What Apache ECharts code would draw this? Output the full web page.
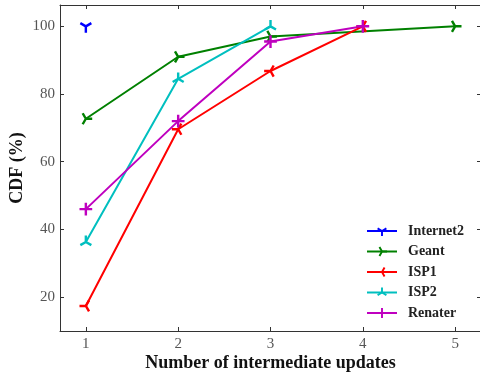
<!DOCTYPE html>
<html>
<head>
<meta charset="utf-8">
<script src="https://cdn.jsdelivr.net/npm/echarts@6/dist/echarts.min.js"></script>
<style>
  html, body { margin: 0; padding: 0; background: #fff; }
  #chart { width: 480px; height: 379px; }
</style>
</head>
<body>
<div id="chart"></div>
<script>
// data
const xTicks = [1, 2, 3, 4, 5];
const yTicks = [20, 40, 60, 80, 100];

const internet2X = [1];
const internet2Y = [100];
const geantX = [1, 2, 3, 5];
const geantY = [72.7, 91, 97, 100];
const isp1X = [1, 2, 3, 4];
const isp1Y = [17.4, 69.6, 86.8, 100];
const isp2X = [1, 2, 3];
const isp2Y = [36.3, 84.5, 100];
const renaterX = [1, 2, 3, 4];
const renaterY = [46, 72, 95.5, 100];

// matplotlib-like tri / plus markers built from thin spokes
function spokes(angles, t) {
  let d = 'M-1.1 -1.1 L-1.1 -1.1 Z M1.1 1.1 L1.1 1.1 Z';
  angles.forEach(function (a) {
    const r = a * Math.PI / 180;
    const dx = Math.cos(r), dy = Math.sin(r);
    const nx = -dy * t / 2, ny = dx * t / 2;
    const p = [[nx, ny], [dx + nx, dy + ny], [dx - nx, dy - ny], [-nx, -ny]];
    d += ' M' + p.map(q => q[0].toFixed(3) + ' ' + q[1].toFixed(3)).join(' L') + ' Z';
  });
  return 'path://' + d;
}
const triDown = spokes([90, 210, 330], 0.38);
const triRight = spokes([0, 120, 240], 0.38);
const triLeft = spokes([180, 300, 60], 0.38);
const triUp = spokes([270, 30, 150], 0.38);
const plus = spokes([0, 90, 180, 270], 0.38);

function pairs(xs, ys) {
  return xs.map((x, i) => [x, ys[i]]);
}

const font = '"Liberation Serif", "DejaVu Serif", serif';

function mkSeries(name, xs, ys, color, symbol) {
  return {
    name: name,
    type: 'line',
    data: pairs(xs, ys),
    symbol: symbol,
    symbolSize: 14,
    symbolKeepAspect: true,
    showSymbol: true,
    lineStyle: { color: color, width: 2 },
    itemStyle: { color: color },
    emphasis: { disabled: true },
    animation: false
  };
}

const chart = echarts.init(document.getElementById('chart'), null, { renderer: 'canvas' });

const axisLine = { show: true, lineStyle: { color: '#333', width: 1 } };

chart.setOption({
  backgroundColor: '#fff',
  animation: false,
  grid: { left: 60, top: 5, width: 421, height: 326, outerBoundsMode: 'none', containLabel: false },
  legend: {
    orient: 'vertical',
    left: 361,
    top: 219,
    itemWidth: 30,
    itemHeight: 14,
    itemGap: 6.5,
    textStyle: { fontFamily: font, fontSize: 14, fontWeight: 600, color: '#222', padding: [0, 0, 0, 6] },
    data: ['Internet2', 'Geant', 'ISP1', 'ISP2', 'Renater']
  },
  xAxis: [{
    type: 'value',
    min: 0.72,
    max: 5.28,
    position: 'bottom',
    name: 'Number of intermediate updates',
    nameLocation: 'middle',
    nameGap: 23,
    nameMoveOverlap: false,
    nameTextStyle: { fontFamily: font, fontSize: 18, fontWeight: 'bold', color: '#111' },
    axisLine: axisLine,
    axisTick: { show: true, inside: true, length: 4, customValues: xTicks, lineStyle: { color: '#333' } },
    axisLabel: { customValues: xTicks, fontFamily: font, fontSize: 15, color: '#555', margin: 6 },
    splitLine: { show: false }
  }, {
    type: 'value',
    min: 0.72,
    max: 5.28,
    position: 'top',
    axisLine: axisLine,
    axisTick: { show: true, inside: true, length: 4, customValues: xTicks, lineStyle: { color: '#333' } },
    axisLabel: { show: false },
    splitLine: { show: false }
  }],
  yAxis: [{
    type: 'value',
    min: 10,
    max: 106.3,
    position: 'left',
    name: 'CDF (%)',
    nameLocation: 'middle',
    nameGap: 34,
    nameMoveOverlap: false,
    nameTextStyle: { fontFamily: font, fontSize: 18, fontWeight: 'bold', color: '#111' },
    axisLine: axisLine,
    axisTick: { show: true, inside: true, length: 4, customValues: yTicks, lineStyle: { color: '#333' } },
    axisLabel: { customValues: yTicks, fontFamily: font, fontSize: 15, color: '#555', margin: 5 },
    splitLine: { show: false }
  }, {
    type: 'value',
    min: 10,
    max: 106.3,
    position: 'right',
    axisLine: axisLine,
    axisTick: { show: true, inside: true, length: 4, customValues: yTicks, lineStyle: { color: '#333' } },
    axisLabel: { show: false },
    splitLine: { show: false }
  }],
  series: [
    mkSeries('Internet2', internet2X, internet2Y, '#0000ff', triDown),
    mkSeries('Geant', geantX, geantY, '#008000', triRight),
    mkSeries('ISP1', isp1X, isp1Y, '#ff0000', triLeft),
    mkSeries('ISP2', isp2X, isp2Y, '#00bfbf', triUp),
    mkSeries('Renater', renaterX, renaterY, '#bf00bf', plus)
  ]
});
</script>
</body>
</html>
